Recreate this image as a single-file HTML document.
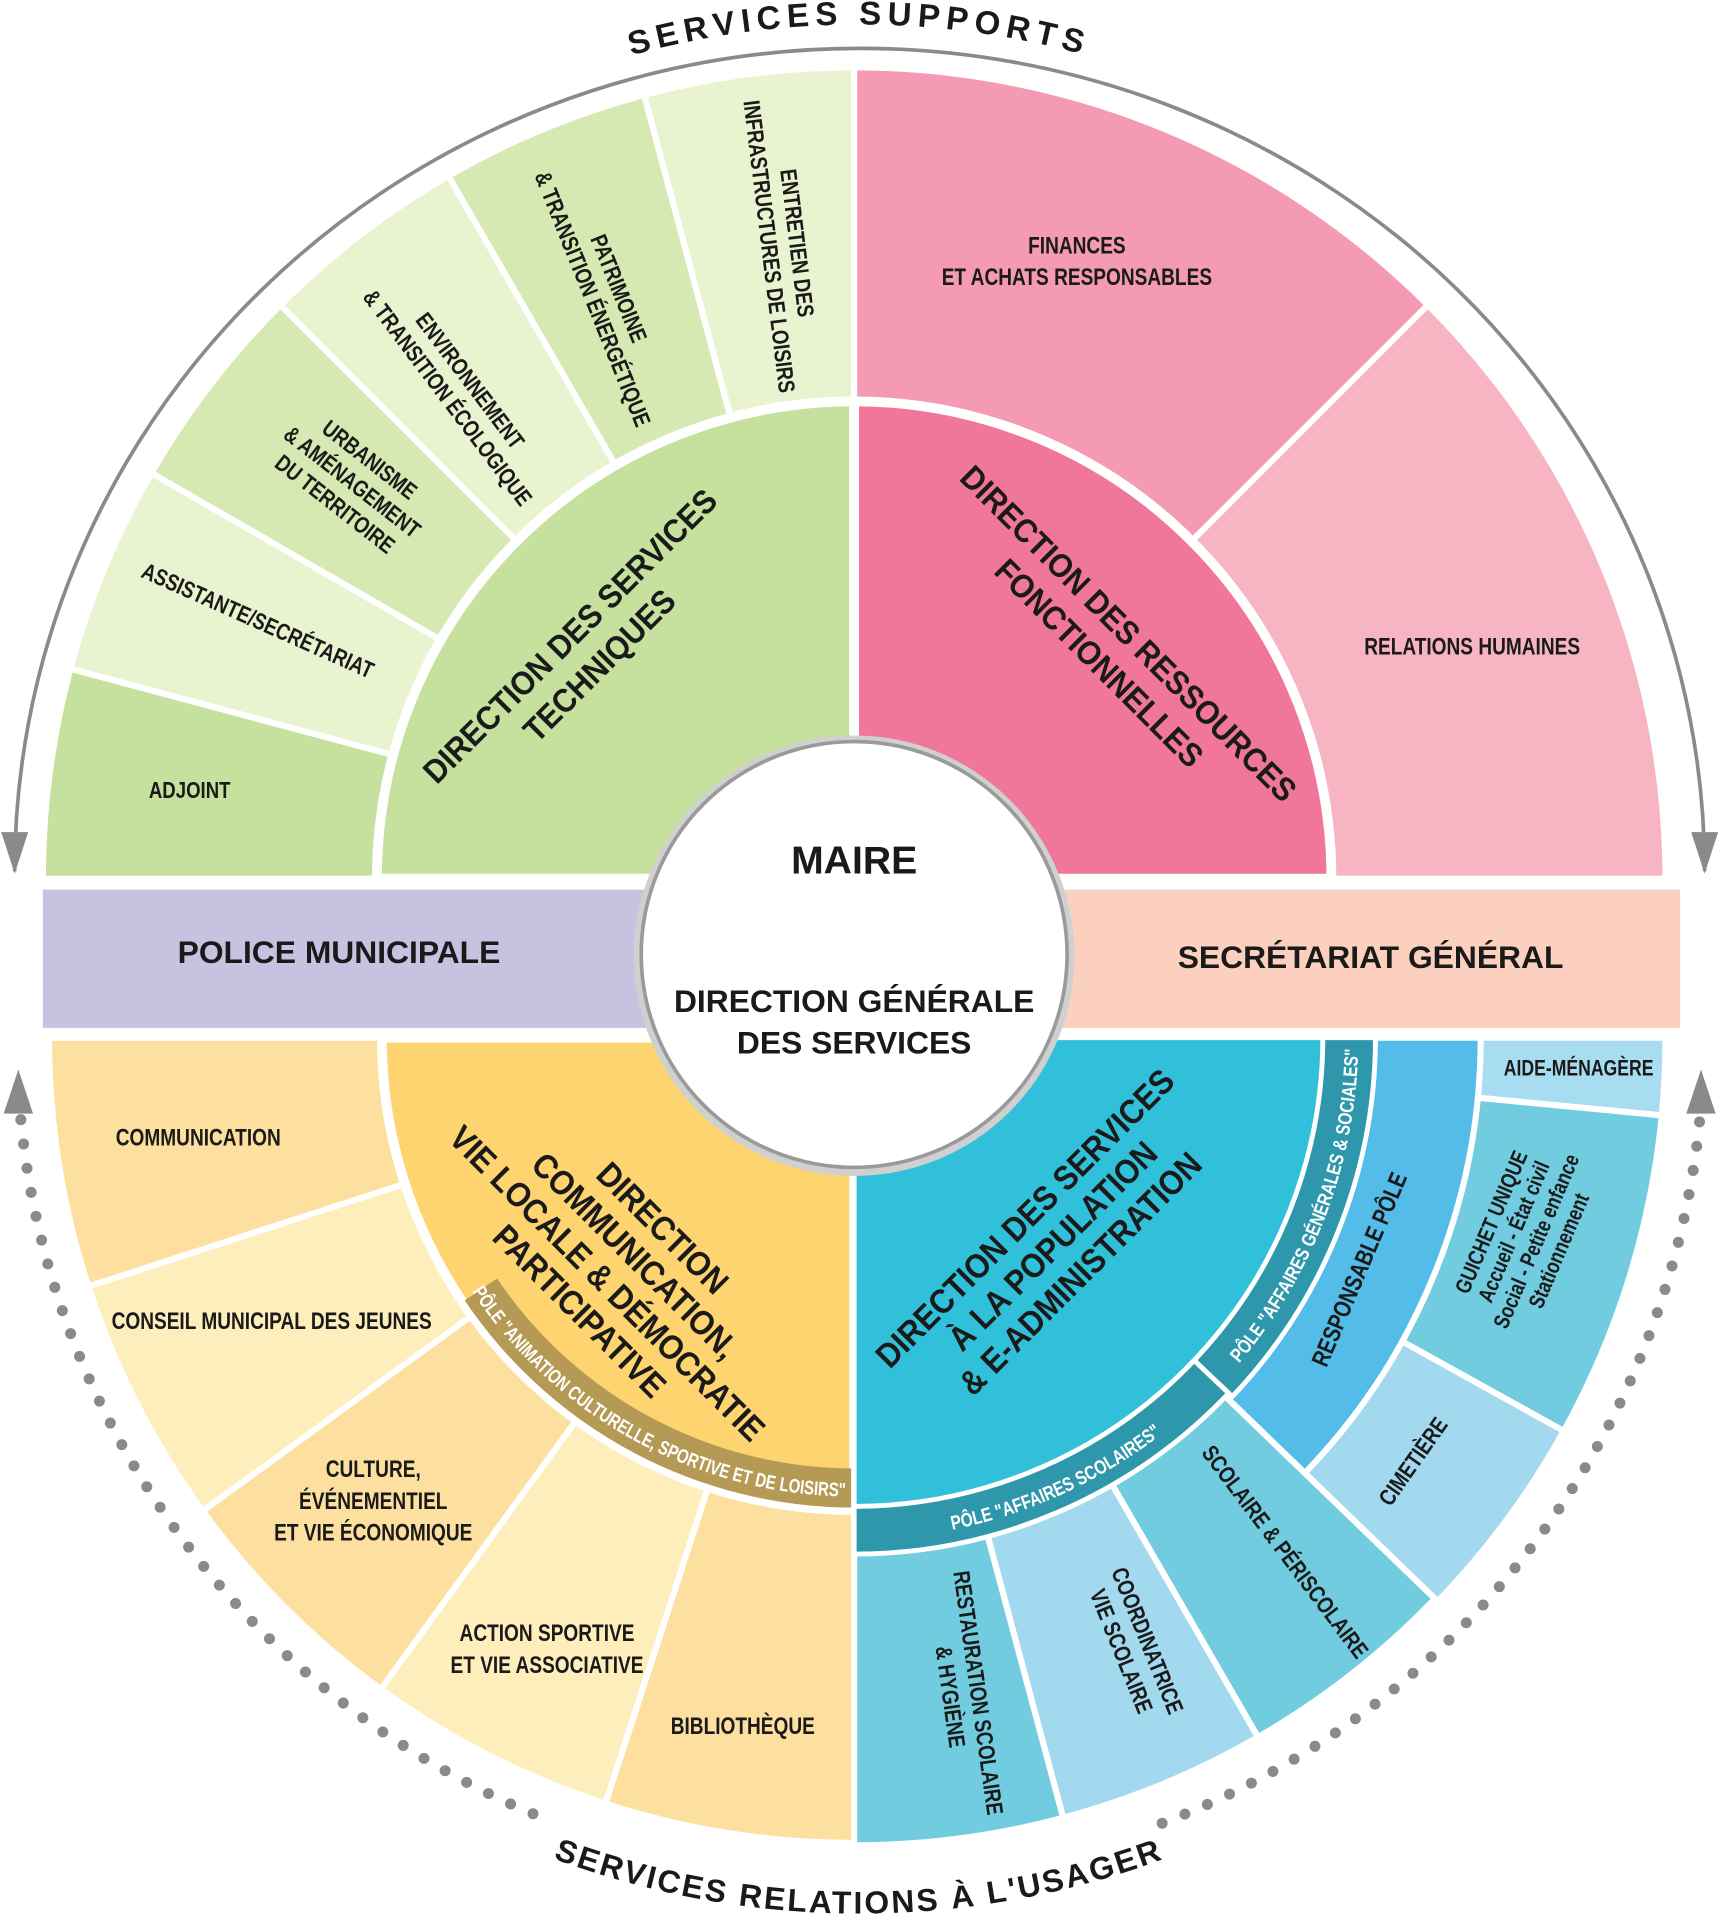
<!DOCTYPE html>
<html><head><meta charset="utf-8">
<style>
html,body{margin:0;padding:0;background:#fff;}
svg{display:block;}
.l{font-family:"Liberation Sans Narrow","Liberation Sans",sans-serif;font-weight:bold;fill:#1a1a1a;}
.b{font-family:"Liberation Sans",sans-serif;font-weight:bold;fill:#1a1a1a;}
</style></head><body>
<svg xmlns="http://www.w3.org/2000/svg" width="1723" height="1920" viewBox="0 0 1408 1569" preserveAspectRatio="none">
<g stroke="#fff" stroke-linejoin="round">
<path d="M698,718 L35,718 A663,663 0 0 1 57.6,546.4 Z" fill="#c6e09e" stroke-width="5"/>
<path d="M698,718 L57.6,546.4 A663,663 0 0 1 123.8,386.5 Z" fill="#eaf3cf" stroke-width="5"/>
<path d="M698,718 L123.8,386.5 A663,663 0 0 1 229.2,249.2 Z" fill="#d7e9b2" stroke-width="5"/>
<path d="M698,718 L229.2,249.2 A663,663 0 0 1 366.5,143.8 Z" fill="#eaf3cf" stroke-width="5"/>
<path d="M698,718 L366.5,143.8 A663,663 0 0 1 526.4,77.6 Z" fill="#d7e9b2" stroke-width="5"/>
<path d="M698,718 L526.4,77.6 A663,663 0 0 1 698,55 Z" fill="#eaf3cf" stroke-width="5"/>
<path d="M698,718 L698,55 A663,663 0 0 1 1166.8,249.2 Z" fill="#f49ab2" stroke-width="5"/>
<path d="M698,718 L1166.8,249.2 A663,663 0 0 1 1361,718 Z" fill="#f7b5c3" stroke-width="5"/>
<path d="M698,718 L308,718 A390,390 0 0 1 698,328 Z" fill="#c6e09e" stroke-width="8"/>
<path d="M698,718 L698,328 A390,390 0 0 1 1088,718 Z" fill="#f07799" stroke-width="8"/>
<path d="M698,848 L698,1506 A658,658 0 0 1 494.7,1473.8 Z" fill="#fde0a0" stroke-width="5"/>
<path d="M698,848 L494.7,1473.8 A658,658 0 0 1 311.2,1380.3 Z" fill="#feeebc" stroke-width="5"/>
<path d="M698,848 L311.2,1380.3 A658,658 0 0 1 165.7,1234.8 Z" fill="#fde0a0" stroke-width="5"/>
<path d="M698,848 L165.7,1234.8 A658,658 0 0 1 72.2,1051.3 Z" fill="#feeebc" stroke-width="5"/>
<path d="M698,848 L72.2,1051.3 A658,658 0 0 1 40,848 Z" fill="#fde0a0" stroke-width="5"/>
<path d="M698,848 L698,1234 A386,386 0 0 1 312,848 Z" fill="#fdd46f" stroke-width="8"/>
<path d="M698,1232 A384,384 0 0 1 379.7,1062.7 L406.2,1044.8 A352,352 0 0 0 698,1200 Z" fill="#b49a55" stroke-width="0"/>
<path d="M698,848 L1172.7,1306.5 A660,660 0 0 1 1028,1419.6 Z" fill="#71cce0" stroke-width="5"/>
<path d="M698,848 L1028,1419.6 A660,660 0 0 1 868.8,1485.5 Z" fill="#a2d9ee" stroke-width="5"/>
<path d="M698,848 L868.8,1485.5 A660,660 0 0 1 698,1508 Z" fill="#71cce0" stroke-width="5"/>
<path d="M698,848 L1361,848 A663,663 0 0 1 1358,911.5 Z" fill="#a8dcf0" stroke-width="5"/>
<path d="M698,848 L1358,911.5 A663,663 0 0 1 1277.9,1169.4 Z" fill="#71cce0" stroke-width="5"/>
<path d="M698,848 L1277.9,1169.4 A663,663 0 0 1 1174.9,1308.6 Z" fill="#a2d9ee" stroke-width="5"/>
<path d="M698,848 L1210,848 A512,512 0 0 1 1066.3,1203.7 Z" fill="#54bce8" stroke-width="5"/>
<path d="M698,848 L1124,848 A426,426 0 0 1 1007,1141.3 Z" fill="#2e97ab" stroke-width="4"/>
<path d="M698,848 L1004.1,1138.5 A422,422 0 0 1 698,1270 Z" fill="#2e97ab" stroke-width="4"/>
<path d="M698,848 L1081,848 A383,383 0 0 1 698,1231 Z" fill="#31c0d9" stroke-width="4"/>
</g>
<rect x="35" y="727" width="505" height="113" fill="#c6c3e1"/>
<rect x="860" y="727" width="513" height="113" fill="#fbd0bf"/>
<circle cx="698" cy="781" r="180" fill="#d0d0d0"/>
<circle cx="698" cy="780" r="174" fill="#fff" stroke="#9a9a9a" stroke-width="3"/>
<path d="M12,712 A690,672 0 0 1 1393,712" fill="none" stroke="#8a8a8a" stroke-width="3"/>
<polygon points="1,680 23,680 12,714" fill="#8a8a8a"/>
<polygon points="1382,680 1404,680 1393,714" fill="#8a8a8a"/>
<path d="M17,915 A688,688 0 0 0 440,1484" fill="none" stroke="#8a8a8a" stroke-width="9" stroke-linecap="round" stroke-dasharray="0 20"/>
<path d="M949.7,1489.9 A688,688 0 0 0 1389,915" fill="none" stroke="#8a8a8a" stroke-width="9" stroke-linecap="round" stroke-dasharray="0 20"/>
<polygon points="3,910 27,910 15,874" fill="#8a8a8a"/>
<polygon points="1378,910 1402,910 1390,874" fill="#8a8a8a"/>
<defs>
<path id="top" d="M4,718 A698,698 0 0 1 1400,718"/>
<path id="bot" d="M-14,848 A716,716 0 0 0 1418,848"/>
<path id="anim" d="M383.5,1052.2 A375,375 0 0 0 698,1223"/>
<path id="scol" d="M733.7,1256.4 A410,410 0 0 0 987.9,1137.9"/>
<path id="gen" d="M999.3,1129 A412,412 0 0 0 1110,848"/>
</defs>
<text class="b" font-size="27" letter-spacing="5" text-anchor="middle" fill="#222"><textPath href="#top" startOffset="50%">SERVICES SUPPORTS</textPath></text>
<text class="b" font-size="26" letter-spacing="2" text-anchor="middle" fill="#222"><textPath href="#bot" startOffset="50%">SERVICES RELATIONS À L'USAGER</textPath></text>
<text class="l" font-size="16" style="fill:#fff"><textPath href="#anim" startOffset="4" textLength="362" lengthAdjust="spacingAndGlyphs">PÔLE "ANIMATION CULTURELLE, SPORTIVE ET DE LOISIRS"</textPath></text>
<text class="l" font-size="16" style="fill:#fff"><textPath href="#scol" startOffset="45" textLength="190" lengthAdjust="spacingAndGlyphs">PÔLE "AFFAIRES SCOLAIRES"</textPath></text>
<text class="l" font-size="16" style="fill:#fff"><textPath href="#gen" startOffset="20" textLength="280" lengthAdjust="spacingAndGlyphs">PÔLE "AFFAIRES GÉNÉRALES &amp; SOCIALES"</textPath></text>

<g transform="translate(155,652) scale(0.8,1)"><text class="l" font-size="19" text-anchor="middle">ADJOINT</text></g>
<g transform="translate(208,513) rotate(24) scale(0.8,1)"><text class="l" font-size="19" text-anchor="middle">ASSISTANTE/SECRÉTARIAT</text></g>
<g transform="translate(287,395) rotate(38) scale(0.8,1)"><text class="l" font-size="19" text-anchor="middle"><tspan x="0" y="-18">URBANISME</tspan><tspan x="0" y="5">&amp; AMÉNAGEMENT</tspan><tspan x="0" y="28">DU TERRITOIRE</tspan></text></g>
<g transform="translate(375,318) rotate(53) scale(0.8,1)"><text class="l" font-size="19" text-anchor="middle"><tspan x="0" y="-5">ENVIRONNEMENT</tspan><tspan x="0" y="18">&amp; TRANSITION ÉCOLOGIQUE</tspan></text></g>
<g transform="translate(495,240) rotate(68) scale(0.8,1)"><text class="l" font-size="19" text-anchor="middle"><tspan x="0" y="-5">PATRIMOINE</tspan><tspan x="0" y="18">&amp; TRANSITION ÉNERGÉTIQUE</tspan></text></g>
<g transform="translate(640,200) rotate(83) scale(0.8,1)"><text class="l" font-size="19" text-anchor="middle"><tspan x="0" y="-5">ENTRETIEN DES</tspan><tspan x="0" y="18">INFRASTRUCTURES DE LOISIRS</tspan></text></g>
<g transform="translate(478,532) rotate(-45) scale(0.92,1)"><text class="b" font-size="27" text-anchor="middle"><tspan x="0" y="-8">DIRECTION DES SERVICES</tspan><tspan x="0" y="26">TECHNIQUES</tspan></text></g>
<g transform="translate(880,0) scale(0.78,1)"><text class="l" font-size="20" text-anchor="middle"><tspan x="0" y="207">FINANCES</tspan><tspan x="0" y="233">ET ACHATS RESPONSABLES</tspan></text></g>
<g transform="translate(1203,535) scale(0.78,1)"><text class="l" font-size="20" text-anchor="middle">RELATIONS HUMAINES</text></g>
<g transform="translate(910,530) rotate(45) scale(0.92,1)"><text class="b" font-size="27" text-anchor="middle"><tspan x="0" y="-8">DIRECTION DES RESSOURCES</tspan><tspan x="0" y="26">FONCTIONNELLES</tspan></text></g>
<text class="b" font-size="32" x="698" y="714" text-anchor="middle">MAIRE</text>
<text class="b" font-size="26" text-anchor="middle"><tspan x="698" y="827">DIRECTION GÉNÉRALE</tspan><tspan x="698" y="861">DES SERVICES</tspan></text>
<text class="b" font-size="26" x="277" y="787" text-anchor="middle">POLICE MUNICIPALE</text>
<text class="b" font-size="26" x="1120" y="791" text-anchor="middle">SECRÉTARIAT GÉNÉRAL</text>
<g transform="translate(162,936) scale(0.78,1)"><text class="l" font-size="20" text-anchor="middle">COMMUNICATION</text></g>
<g transform="translate(222,1086) scale(0.78,1)"><text class="l" font-size="20" text-anchor="middle">CONSEIL MUNICIPAL DES JEUNES</text></g>
<g transform="translate(305,0) scale(0.78,1)"><text class="l" font-size="20" text-anchor="middle"><tspan x="0" y="1207">CULTURE,</tspan><tspan x="0" y="1233">ÉVÉNEMENTIEL</tspan><tspan x="0" y="1259">ET VIE ÉCONOMIQUE</tspan></text></g>
<g transform="translate(447,0) scale(0.78,1)"><text class="l" font-size="20" text-anchor="middle"><tspan x="0" y="1341">ACTION SPORTIVE</tspan><tspan x="0" y="1367">ET VIE ASSOCIATIVE</tspan></text></g>
<g transform="translate(607,1417) scale(0.78,1)"><text class="l" font-size="20" text-anchor="middle">BIBLIOTHÈQUE</text></g>
<g transform="translate(505,1040) rotate(45) scale(0.9,1)"><text class="b" font-size="28" text-anchor="middle"><tspan x="0" y="-42">DIRECTION</tspan><tspan x="0" y="-10">COMMUNICATION,</tspan><tspan x="0" y="22">VIE LOCALE &amp; DÉMOCRATIE</tspan><tspan x="0" y="54">PARTICIPATIVE</tspan></text></g>
<g transform="translate(862,1020) rotate(-45) scale(0.9,1)"><text class="b" font-size="28" text-anchor="middle"><tspan x="0" y="-25">DIRECTION DES SERVICES</tspan><tspan x="0" y="7">À LA POPULATION</tspan><tspan x="0" y="39">&amp; E-ADMINISTRATION</tspan></text></g>
<g transform="translate(1117,1040) rotate(-67) scale(0.8,1)"><text class="l" font-size="20" text-anchor="middle">RESPONSABLE PÔLE</text></g>
<g transform="translate(1290,879) scale(0.8,1)"><text class="l" font-size="18" text-anchor="middle">AIDE-MÉNAGÈRE</text></g>
<g transform="translate(1250,1012) rotate(-67) scale(0.8,1)"><text class="l" font-size="18" text-anchor="middle"><tspan x="0" y="-28">GUICHET UNIQUE</tspan><tspan x="0" y="-8">Accueil - État civil</tspan><tspan x="0" y="12">Social - Petite enfance</tspan><tspan x="0" y="32">Stationnement</tspan></text></g>
<g transform="translate(1160,1198) rotate(-55) scale(0.8,1)"><text class="l" font-size="19" text-anchor="middle">CIMETIÈRE</text></g>
<g transform="translate(1045,1272) rotate(53) scale(0.8,1)"><text class="l" font-size="19" text-anchor="middle">SCOLAIRE &amp; PÉRISCOLAIRE</text></g>
<g transform="translate(927,1345) rotate(68) scale(0.8,1)"><text class="l" font-size="19" text-anchor="middle"><tspan x="0" y="-5">COORDINATRICE</tspan><tspan x="0" y="18">VIE SCOLAIRE</tspan></text></g>
<g transform="translate(788,1385) rotate(82) scale(0.8,1)"><text class="l" font-size="19" text-anchor="middle"><tspan x="0" y="-5">RESTAURATION SCOLAIRE</tspan><tspan x="0" y="18">&amp; HYGIÈNE</tspan></text></g>
</svg>
</body></html>
